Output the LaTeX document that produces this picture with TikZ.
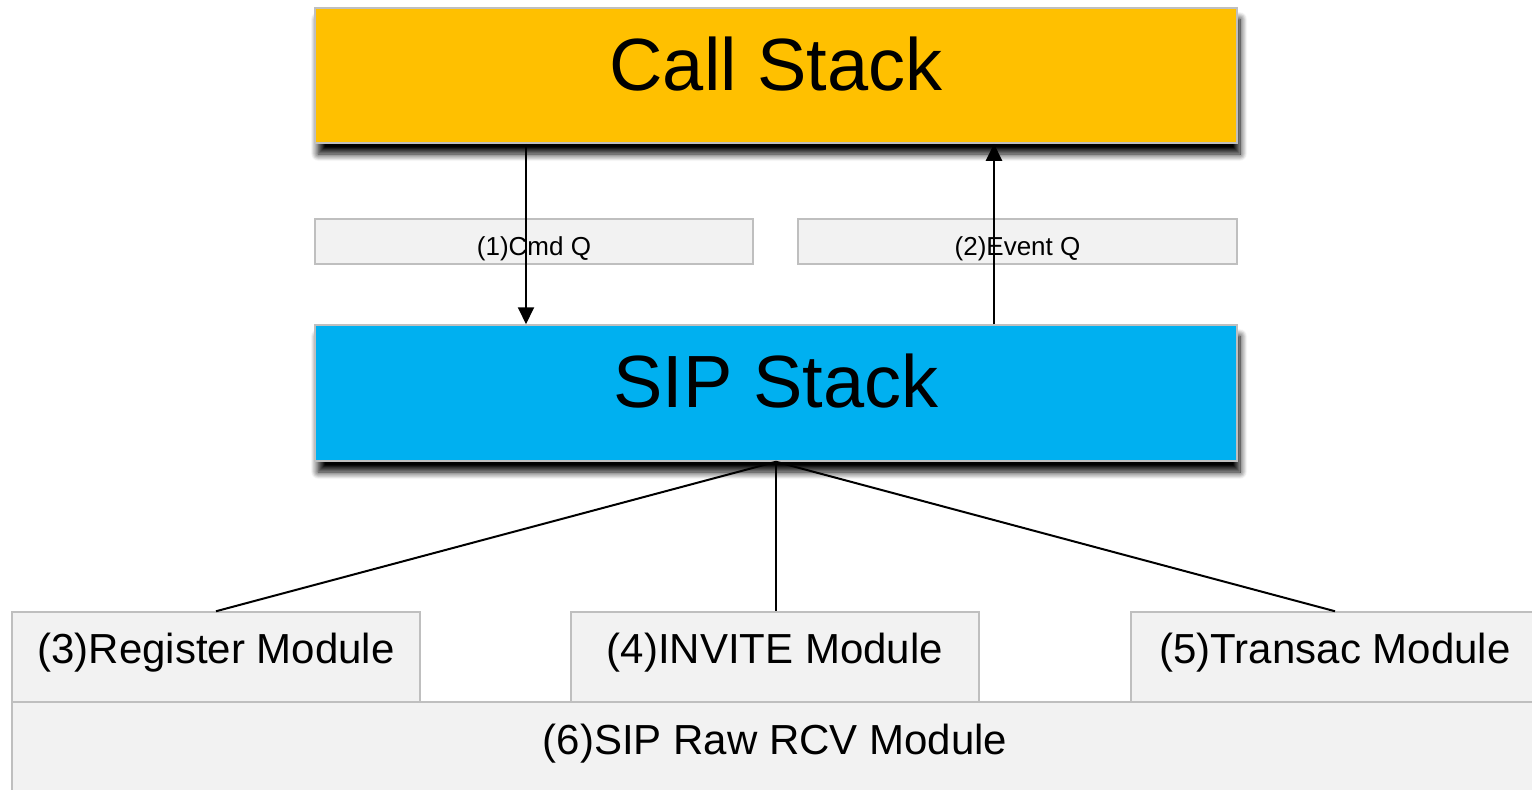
\documentclass[tikz,border=0pt]{standalone}
\usepackage{fontspec}
\setmainfont{Liberation Sans}
\usetikzlibrary{shadows.blur,arrows.meta}
\definecolor{callfill}{HTML}{FFC000}
\definecolor{sipfill}{HTML}{00B0F0}
\definecolor{boxfill}{HTML}{F2F2F2}
\definecolor{boxline}{HTML}{BFBFBF}
\tikzset{
  basebox/.style={draw=boxline, line width=1.5pt, inner sep=0pt, anchor=base, align=center},
  bigbox/.style={basebox, minimum width=922pt, text height=82pt, font=\fontsize{74}{80}\selectfont,
    blur shadow={shadow xshift=3pt, shadow yshift=-11pt, shadow blur radius=7pt, shadow opacity=100, shadow blur steps=10}},
  qbox/.style={basebox, fill=boxfill, text height=36pt, text depth=9pt, font=\fontsize{26}{30}\selectfont},
  modbox/.style={basebox, fill=boxfill, minimum width=408pt, text height=51pt, text depth=39pt, font=\fontsize{42}{48}\selectfont},
  conn/.style={draw=black, line width=2pt},
  arrowline/.style={conn, -{Triangle[length=17pt,width=16pt]}}
}
\begin{document}
\begin{tikzpicture}[x=1pt,y=-1pt]
\useasboundingbox (0,0) rectangle (1532,790);
% top and middle stacks
\node[bigbox, fill=callfill, text depth=53pt] (call) at (776,90) {Call Stack};
\node[qbox, minimum width=438pt] (cmdq) at (534,255) {(1)Cmd Q};
\node[qbox, minimum width=439pt] (evq) at (1017.5,255) {(2)Event Q};
\node[bigbox, fill=sipfill, text depth=54pt] (sip) at (776,407) {SIP Stack};
% modules
\node[modbox, minimum width=1526pt, text height=52pt, text depth=40pt] (raw) at (775,754) {(6)SIP Raw RCV Module};
\node[modbox] (reg) at (216,663) {(3)Register Module};
\node[modbox] (inv) at (775,663) {(4)INVITE Module};
\node[modbox] (tra) at (1335,663) {(5)Transac Module};
% connectors
\coordinate (a1) at (526,0);
\coordinate (a2) at (994,0);
\draw[arrowline] (a1 |- call.south) -- (a1 |- sip.north);
\draw[arrowline] (a2 |- sip.north) -- (a2 |- call.south);
\draw[conn] (sip.south) -- (reg.north);
\draw[conn] (sip.south) -- (sip.south |- inv.north);
\draw[conn] (sip.south) -- (tra.north);
\end{tikzpicture}
\end{document}
